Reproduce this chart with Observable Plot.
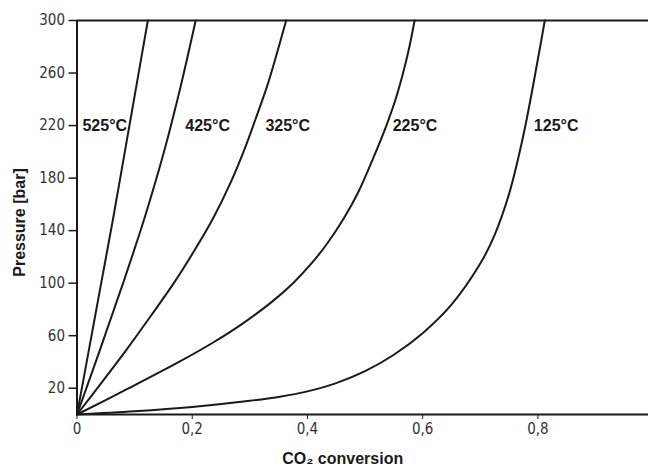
<!DOCTYPE html>
<html>
<head>
<meta charset="utf-8">
<script src="https://cdn.jsdelivr.net/npm/d3@7"></script>
<script src="https://cdn.jsdelivr.net/npm/@observablehq/plot@0.6"></script>
<style>
  html, body { margin: 0; padding: 0; background: #fff; }
  #chart svg { display: block; }
</style>
</head>
<body>
<div id="chart"></div>
<script>
// ---- data ----
const temperatures = ["525°C", "425°C", "325°C", "225°C", "125°C"];

const conv525 = [0, 0.021, 0.042, 0.063, 0.083, 0.103, 0.123];
const pres525 = [0, 50, 100, 150, 200, 250, 300];

const conv425 = [0, 0.0405, 0.080, 0.1175, 0.151, 0.180, 0.206];
const pres425 = [0, 50, 100, 150, 200, 250, 300];

const conv325 = [0, 0.044, 0.087, 0.128, 0.168, 0.204, 0.237, 0.265, 0.289, 0.310, 0.330, 0.347, 0.363];
const pres325 = [0, 25, 50, 75, 100, 125, 150, 175, 200, 225, 250, 275, 300];

const conv225 = [0, 0.090, 0.177, 0.237, 0.290, 0.336, 0.375, 0.407, 0.434, 0.464, 0.489, 0.514, 0.537, 0.553, 0.566, 0.577, 0.586];
const pres225 = [0, 20, 40, 55, 70, 85, 100, 115, 130, 150, 170, 195, 220, 240, 260, 280, 300];

const conv125 = [0, 0.1, 0.2, 0.3, 0.35, 0.4, 0.45, 0.5, 0.55, 0.6, 0.65, 0.7, 0.725, 0.75, 0.775, 0.8, 0.812];
const pres125 = [0, 2.4, 5.7, 10.4, 13.4, 17.6, 23.9, 33.0, 45.5, 61.9, 83.6, 114.9, 136.8, 168, 213, 270.5, 300];

// curve label anchor points (data coordinates)
const labelConv = [0.0095, 0.188, 0.327, 0.548, 0.793];
const labelPres = [220, 220, 220, 220, 220];

const xTicks = [0, 0.2, 0.4, 0.6, 0.8];
const yTicks = [20, 60, 100, 140, 180, 220, 260, 300];

const xLabel = "CO₂ conversion";
const yLabel = "Pressure [bar]";

// ---- build tables ----
const seriesConv = [conv525, conv425, conv325, conv225, conv125];
const seriesPres = [pres525, pres425, pres325, pres225, pres125];
const points = [];
temperatures.forEach((t, i) => {
  seriesConv[i].forEach((c, j) => points.push({temp: t, conv: c, pres: seriesPres[i][j]}));
});
const labels = temperatures.map((t, i) => ({temp: t, conv: labelConv[i], pres: labelPres[i]}));

const tickFont = "'Liberation Sans Narrow', 'Arial Narrow', 'DejaVu Sans Condensed', sans-serif";
const boldFont = "'Liberation Sans', Arial, Helvetica, sans-serif";
const ink = "#1a1a1a";

const chart = Plot.plot({
  width: 648,
  height: 466,
  marginTop: 20,
  marginBottom: 52,
  marginLeft: 76.5,
  marginRight: 0,
  style: {background: "#fff", color: ink},
  x: {domain: [0, 0.992]},
  y: {domain: [0, 300]},
  marks: [
    Plot.axisX({
      ticks: xTicks,
      tickSize: 5,
      tickPadding: 4,
      tickFormat: d => d === 0 ? "0" : d.toFixed(1).replace(".", ","),
      label: null,
      fontSize: 15,
      fontFamily: tickFont,
      fill: "#333",
      stroke: ink
    }),
    Plot.axisY({
      ticks: yTicks,
      tickSize: 8,
      tickPadding: 4,
      label: null,
      fontSize: 15,
      fontFamily: tickFont,
      fill: "#333",
      stroke: ink,
      strokeWidth: 1.5
    }),
    Plot.ruleY([0, 300], {stroke: ink, strokeWidth: 2}),
    Plot.ruleX([0], {stroke: ink, strokeWidth: 2}),
    Plot.line(points, {
      x: "conv", y: "pres", z: "temp",
      curve: "catmull-rom",
      stroke: ink, strokeWidth: 2
    }),
    Plot.text(labels, {
      x: "conv", y: "pres", text: "temp",
      textAnchor: "start", lineAnchor: "middle",
      fontSize: 16, fontWeight: "bold", fontFamily: boldFont, fill: ink
    }),
    Plot.text([xLabel], {
      frameAnchor: "bottom", dx: -20, dy: 44,
      lineAnchor: "middle",
      fontSize: 16, fontWeight: "bold", fontFamily: boldFont, fill: ink
    }),
    Plot.text([yLabel], {
      frameAnchor: "left", dx: -57, dy: 5, rotate: -90,
      textAnchor: "middle", lineAnchor: "middle",
      fontSize: 16, fontWeight: "bold", fontFamily: boldFont, fill: ink
    })
  ]
});
document.getElementById("chart").appendChild(chart);
</script>
</body>
</html>
